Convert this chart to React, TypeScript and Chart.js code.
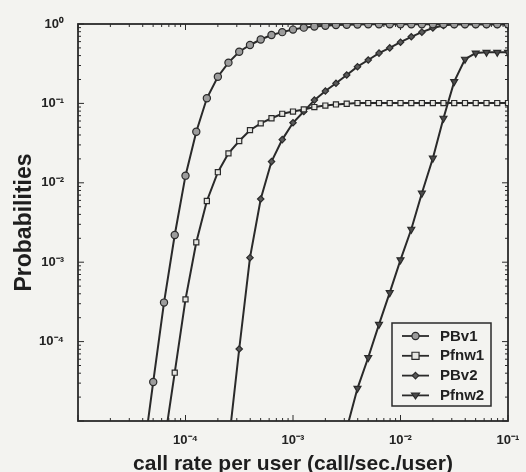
import React, { useEffect, useRef } from 'react';
import { Chart, registerables } from 'chart.js';

Chart.register(...registerables);

// call rate per user (call/sec./user)
const rates = [
  3.98e-5, 5.01e-5, 6.31e-5, 7.94e-5, 1.0e-4, 1.26e-4, 1.58e-4, 2.0e-4, 2.51e-4, 3.16e-4,
  3.98e-4, 5.01e-4, 6.31e-4, 7.94e-4, 1.0e-3, 1.26e-3, 1.58e-3, 2.0e-3, 2.51e-3, 3.16e-3,
  3.98e-3, 5.01e-3, 6.31e-3, 7.94e-3, 1.0e-2, 1.26e-2, 1.58e-2, 2.0e-2, 2.51e-2, 3.16e-2,
  3.98e-2, 5.01e-2, 6.31e-2, 7.94e-2, 1.0e-1,
];

const PBv1 = [
  3e-6, 3.1e-5, 3.1e-4, 2.2e-3, 1.23e-2, 4.4e-2, 0.116, 0.217, 0.326, 0.448,
  0.544, 0.638, 0.727, 0.79, 0.85, 0.9, 0.93, 0.95, 0.97, 0.98,
  0.985, 0.99, 0.99, 0.99, 0.99, 0.99, 0.99, 0.99, 0.99, 0.99,
  0.99, 0.99, 0.99, 0.99, 0.99,
];

const Pfnw1 = [
  null, null, 5e-6, 4.06e-5, 3.4e-4, 1.78e-3, 5.9e-3, 1.36e-2, 2.35e-2, 3.36e-2,
  4.6e-2, 5.6e-2, 0.065, 0.074, 0.079, 0.084, 0.09, 0.094, 0.097, 0.099,
  0.101, 0.101, 0.101, 0.101, 0.101, 0.101, 0.101, 0.101, 0.101, 0.101,
  0.101, 0.101, 0.101, 0.101, 0.101,
];

const PBv2 = [
  null, null, null, null, null, null, null, null, 5e-6, 8.07e-5,
  1.14e-3, 6.25e-3, 1.85e-2, 3.5e-2, 5.7e-2, 7.9e-2, 0.11, 0.143, 0.179, 0.228,
  0.29, 0.352, 0.43, 0.5, 0.59, 0.69, 0.79, 0.89, 0.96, 0.99,
  0.99, 0.99, 0.99, 0.99, 0.99,
];

const Pfnw2 = [
  null, null, null, null, null, null, null, null, null, null,
  null, null, null, null, null, null, null, null, null, 8e-6,
  2.58e-5, 6.3e-5, 1.65e-4, 4.13e-4, 1.07e-3, 2.6e-3, 7.4e-3, 2.04e-2, 6.5e-2, 0.188,
  0.36, 0.43, 0.44, 0.44, 0.44,
];

const seriesNames = ['PBv1', 'Pfnw1', 'PBv2', 'Pfnw2'];
const xTicks = [1e-4, 1e-3, 1e-2, 1e-1];
const yTicks = [1, 1e-1, 1e-2, 1e-3, 1e-4];
const xTitle = 'call rate per user (call/sec./user)';
const yTitle = 'Probabilities';

const BG = '#f3f3f0';
const INK = '#2a2a2a';

const SUP: Record<string, string> = {
  '-': '\u207B', '0': '\u2070', '1': '\u00B9', '2': '\u00B2', '3': '\u00B3',
  '4': '\u2074', '5': '\u2075', '6': '\u2076', '7': '\u2077', '8': '\u2078', '9': '\u2079',
};
const decadeLabel = (v: number) => {
  const e = String(Math.round(Math.log10(v)));
  return '10' + e.split('').map((c) => SUP[c] || c).join('');
};

const markerStyles = [
  { pointStyle: 'circle', radius: 3.6, fill: '#9c9c9c', rotation: 0 },
  { pointStyle: 'rect', radius: 3.6, fill: '#e6e6e2', rotation: 0 },
  { pointStyle: 'rectRot', radius: 3.2, fill: '#5a5a5a', rotation: 0 },
  { pointStyle: 'triangle', radius: 4, fill: '#4a4a4a', rotation: 180 },
];

function drawMarker(ctx: CanvasRenderingContext2D, idx: number, x: number, y: number) {
  const s = markerStyles[idx];
  const r = s.radius;
  ctx.save();
  ctx.fillStyle = s.fill;
  ctx.strokeStyle = INK;
  ctx.lineWidth = 1.2;
  ctx.beginPath();
  if (s.pointStyle === 'circle') {
    ctx.arc(x, y, r, 0, Math.PI * 2);
  } else if (s.pointStyle === 'rect') {
    const h = r / Math.SQRT2 * 1.4;
    ctx.rect(x - h, y - h, 2 * h, 2 * h);
  } else if (s.pointStyle === 'rectRot') {
    ctx.moveTo(x, y - r);
    ctx.lineTo(x + r, y);
    ctx.lineTo(x, y + r);
    ctx.lineTo(x - r, y);
    ctx.closePath();
  } else {
    ctx.moveTo(x - r, y - r * 0.6);
    ctx.lineTo(x + r, y - r * 0.6);
    ctx.lineTo(x, y + r * 0.9);
    ctx.closePath();
  }
  ctx.fill();
  ctx.stroke();
  ctx.restore();
}

const bgPlugin = {
  id: 'bgPaper',
  beforeDraw(chart: any) {
    const { ctx, width, height } = chart;
    ctx.save();
    ctx.fillStyle = BG;
    ctx.fillRect(0, 0, width, height);
    ctx.restore();
  },
};

const framePlugin = {
  id: 'frameTicks',
  beforeDatasetsDraw(chart: any) {
    const { ctx, chartArea: a, scales } = chart;
    const x = scales.x;
    const y = scales.y;
    ctx.save();
    ctx.strokeStyle = INK;
    ctx.lineWidth = 1.8;
    ctx.strokeRect(a.left, a.top, a.right - a.left, a.bottom - a.top);
    ctx.lineWidth = 1;
    const seg = (x1: number, y1: number, x2: number, y2: number) => {
      ctx.beginPath();
      ctx.moveTo(x1, y1);
      ctx.lineTo(x2, y2);
      ctx.stroke();
    };
    for (let e = -5; e <= -1; e++) {
      for (let m = 1; m <= 9; m++) {
        const v = m * Math.pow(10, e);
        if (v < x.min * 0.999 || v > x.max * 1.001) continue;
        const px = x.getPixelForValue(v);
        const len = m === 1 ? 6 : 3;
        seg(px, a.bottom, px, a.bottom - len);
        seg(px, a.top, px, a.top + len);
      }
    }
    for (let e = -5; e <= 0; e++) {
      for (let m = 1; m <= 9; m++) {
        const v = m * Math.pow(10, e);
        if (v < y.min * 0.999 || v > y.max * 1.001) continue;
        const py = y.getPixelForValue(v);
        const len = m === 1 ? 6 : 3;
        seg(a.left, py, a.left + len, py);
        seg(a.right, py, a.right - len, py);
      }
    }
    ctx.restore();
  },
};

const legendPlugin = {
  id: 'insideLegend',
  afterDatasetsDraw(chart: any) {
    const { ctx, chartArea: a } = chart;
    const w = 99;
    const h = 83;
    const right = a.right - 17;
    const bottom = a.bottom - 15;
    const left = right - w;
    const top = bottom - h;
    ctx.save();
    ctx.fillStyle = BG;
    ctx.fillRect(left, top, w, h);
    ctx.strokeStyle = INK;
    ctx.lineWidth = 1.5;
    ctx.strokeRect(left, top, w, h);
    ctx.font = 'bold 15px "Liberation Sans", Arial, sans-serif';
    ctx.textBaseline = 'middle';
    ctx.textAlign = 'left';
    seriesNames.forEach((name, i) => {
      const cy = top + 13 + i * 19.8;
      ctx.strokeStyle = INK;
      ctx.lineWidth = 1.8;
      ctx.beginPath();
      ctx.moveTo(left + 10, cy);
      ctx.lineTo(left + 37, cy);
      ctx.stroke();
      drawMarker(ctx, i, left + 23.5, cy);
      ctx.fillStyle = '#222';
      ctx.fillText(name, left + 48, cy + 0.5);
    });
    ctx.restore();
  },
};

const seriesValues = [PBv1, Pfnw1, PBv2, Pfnw2];

export default function App() {
  const ref = useRef<HTMLCanvasElement | null>(null);

  useEffect(() => {
    if (!ref.current) return;
    const datasets = seriesValues.map((vals, i) => {
      const s = markerStyles[i];
      return {
        label: seriesNames[i],
        data: rates
          .map((r, j) => ({ x: r, y: vals[j] }))
          .filter((p) => p.y !== null) as { x: number; y: number }[],
        borderColor: INK,
        borderWidth: 2,
        pointStyle: s.pointStyle,
        pointRadius: s.radius,
        pointRotation: s.rotation,
        pointBackgroundColor: s.fill,
        pointBorderColor: INK,
        pointBorderWidth: 1.2,
        tension: 0,
        fill: false,
      };
    });

    const chart = new Chart(ref.current, {
      type: 'line',
      data: { datasets: datasets as any },
      plugins: [bgPlugin, framePlugin, legendPlugin],
      options: {
        animation: false,
        responsive: false,
        maintainAspectRatio: false,
        layout: { padding: { top: 24, right: 18, left: 0, bottom: 0 } },
        plugins: {
          legend: { display: false },
          tooltip: { enabled: false },
        },
        scales: {
          x: {
            type: 'logarithmic',
            min: 1e-5,
            max: 1e-1,
            border: { display: false },
            grid: { display: false, drawTicks: true, tickLength: 10 },
            afterBuildTicks: (scale: any) => {
              scale.ticks = xTicks.map((v) => ({ value: v }));
            },
            afterFit: (scale: any) => {
              scale.height = 51;
            },
            ticks: {
              autoSkip: false,
              maxRotation: 0,
              padding: 2,
              color: '#222',
              font: { family: '"Liberation Sans", Arial, sans-serif', size: 13, weight: 'bold' },
              callback: (v: any) => decadeLabel(Number(v)),
            },
            title: {
              display: true,
              text: xTitle,
              color: '#1e1e1e',
              padding: { top: 0, bottom: 0 },
              font: { family: '"Liberation Sans", Arial, sans-serif', size: 21, weight: 'bold', lineHeight: 0.75 },
            },
          },
          y: {
            type: 'logarithmic',
            min: 1e-5,
            max: 1,
            border: { display: false },
            grid: { display: false, drawTicks: true, tickLength: 12 },
            afterBuildTicks: (scale: any) => {
              scale.ticks = yTicks.map((v) => ({ value: v }));
            },
            afterFit: (scale: any) => {
              scale.width = 78;
            },
            ticks: {
              autoSkip: false,
              padding: 2,
              color: '#222',
              font: { family: '"Liberation Sans", Arial, sans-serif', size: 13, weight: 'bold' },
              callback: (v: any) => decadeLabel(Number(v)),
            },
            title: {
              display: true,
              text: yTitle,
              color: '#1e1e1e',
              padding: { top: 13, bottom: 0 },
              font: { family: '"Liberation Sans", Arial, sans-serif', size: 23, weight: 'bold', lineHeight: 1 },
            },
          },
        },
      } as any,
    });
    return () => chart.destroy();
  }, []);

  return (
    <div style={{ position: 'fixed', left: 0, top: 0, width: 526, height: 472, background: BG }}>
      <canvas ref={ref} width={526} height={472} style={{ display: 'block' }} />
    </div>
  );
}
